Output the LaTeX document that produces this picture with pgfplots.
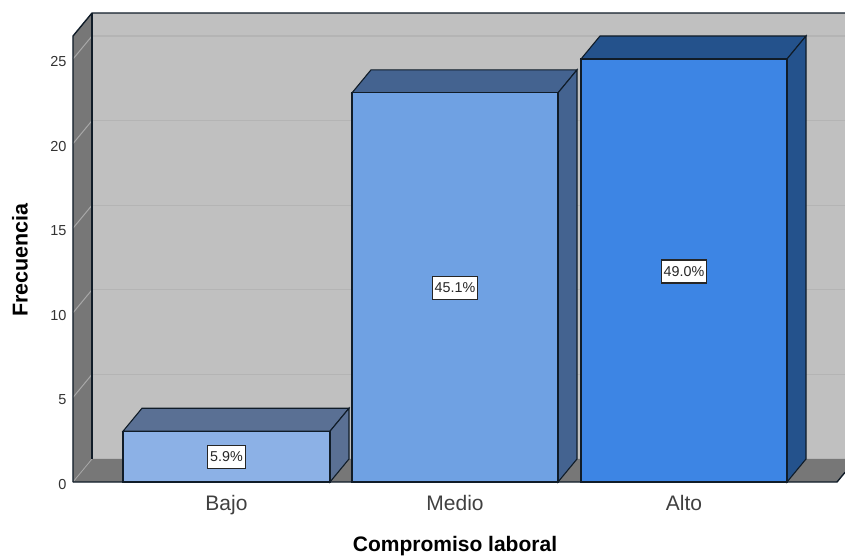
\documentclass[border=0pt]{standalone}
\usepackage{fontspec}
\setmainfont{Liberation Sans}
\usepackage{pgfplots}
\pgfplotsset{compat=1.18}
\definecolor{wall}{HTML}{C0C0C0}
\definecolor{wallgrid}{HTML}{B4B4B4}
\definecolor{side}{HTML}{777777}
\definecolor{sidegrid}{HTML}{A8A8A8}
\definecolor{edge}{HTML}{101C28}
\definecolor{bajoF}{HTML}{8CB1E6}
\definecolor{bajoT}{HTML}{5A7094}
\definecolor{medioF}{HTML}{6FA1E3}
\definecolor{medioT}{HTML}{446390}
\definecolor{altoF}{HTML}{3D85E4}
\definecolor{altoT}{HTML}{24528C}
\begin{document}
\begin{tikzpicture}
\path[use as bounding box] (-73pt,-73pt) rectangle (772pt,482pt);
\begin{axis}[
  at={(0pt,0pt)}, anchor=origin,
  scale only axis, width=772pt, height=469pt,
  xmin=73, xmax=845, ymin=0, ymax=27.72,
  clip=false,
  axis line style={draw=none},
  major tick length=0pt,
  xtick={226.5,455,684},
  xticklabels={Bajo,Medio,Alto},
  ytick={0,5,10,15,20,25},
  x tick label style={font=\fontsize{21}{24}\selectfont, text=black!75, yshift=-10pt},
  y tick label style={font=\fontsize{14.5}{17}\selectfont, text=black!80, xshift=-3pt, yshift=-2.5pt},
  /pgf/number format/assume math mode=true,
  xlabel={\textbf{Compromiso laboral}},
  ylabel={\textbf{Frecuencia}},
  xlabel style={font=\fontsize{21}{24}\selectfont, at={(axis cs:455,0)}, anchor=center, yshift=-64pt},
  ylabel style={font=\fontsize{21.5}{24}\selectfont, at={(axis cs:73,13.12)}, anchor=center, rotate=0, yshift=53pt},
]
% back wall
\addplot[fill=wall,draw=none] coordinates {(92,1.36)(845,1.36)(845,27.72)(92,27.72)} -- cycle;
% grid on back wall
\addplot[wallgrid,line width=1.3pt] coordinates {(92,6.36)(845,6.36)};
\addplot[wallgrid,line width=1.3pt] coordinates {(92,11.36)(845,11.36)};
\addplot[wallgrid,line width=1.3pt] coordinates {(92,16.36)(845,16.36)};
\addplot[wallgrid,line width=1.3pt] coordinates {(92,21.36)(845,21.36)};
\addplot[wallgrid,line width=1.3pt] coordinates {(92,26.36)(845,26.36)};
% left wall
\addplot[fill=side,draw=none] coordinates {(73,0)(92,1.36)(92,27.72)(73,26.36)} -- cycle;
\addplot[sidegrid,line width=1pt] coordinates {(73,5)(92,6.36)};
\addplot[sidegrid,line width=1pt] coordinates {(73,10)(92,11.36)};
\addplot[sidegrid,line width=1pt] coordinates {(73,15)(92,16.36)};
\addplot[sidegrid,line width=1pt] coordinates {(73,20)(92,21.36)};
\addplot[sidegrid,line width=1pt] coordinates {(73,25)(92,26.36)};
% floor
\addplot[fill=side,draw=none] coordinates {(73,0)(837,0)(845,0.57)(845,1.36)(92,1.36)} -- cycle;
\addplot[sidegrid,line width=0.8pt] coordinates {(73,0)(92,1.36)};
% frame lines
\addplot[edge,line width=1.4pt] coordinates {(73,0)(73,26.36)(92,27.72)(845,27.72)};
\addplot[edge,line width=1.2pt] coordinates {(92,27.72)(92,1.36)};
\addplot[edge,line width=1.4pt] coordinates {(73,0)(837,0)(845,0.57)};
% Bajo
\addplot[fill=bajoT,draw=edge,line width=1.1pt] coordinates {(123,3)(142,4.36)(349,4.36)(330,3)} -- cycle;
\addplot[fill=bajoT,draw=edge,line width=1.1pt] coordinates {(330,0)(349,1.36)(349,4.36)(330,3)} -- cycle;
\addplot[ybar,bar width=207pt,bar shift=0pt,fill=bajoF,draw=edge,line width=1.1pt] coordinates {(226.5,3)};
% Medio
\addplot[fill=medioT,draw=edge,line width=1.1pt] coordinates {(352,23)(371,24.36)(577,24.36)(558,23)} -- cycle;
\addplot[fill=medioT,draw=edge,line width=1.1pt] coordinates {(558,0)(577,1.36)(577,24.36)(558,23)} -- cycle;
\addplot[ybar,bar width=206pt,bar shift=0pt,fill=medioF,draw=edge,line width=1.1pt] coordinates {(455,23)};
% Alto
\addplot[fill=altoT,draw=edge,line width=1.1pt] coordinates {(581,25)(600,26.36)(806,26.36)(787,25)} -- cycle;
\addplot[fill=altoT,draw=edge,line width=1.1pt] coordinates {(787,0)(806,1.36)(806,26.36)(787,25)} -- cycle;
\addplot[ybar,bar width=206pt,bar shift=0pt,fill=altoF,draw=edge,line width=1.1pt] coordinates {(684,25)};
% value labels
\addplot[only marks,mark=none,draw=none,point meta=explicit,
  nodes near coords={\pgfmathprintnumber[fixed,fixed zerofill,precision=1,assume math mode=true]{\pgfplotspointmeta}\%},
  nodes near coords style={anchor=center,draw=black!85,fill=white,line width=1.2pt,
    font=\fontsize{14.3}{16}\selectfont,inner xsep=2.5pt,inner ysep=0pt,minimum height=23pt,text=black!85}]
  coordinates {(226.5,1.5)[5.9] (455,11.47)[45.1] (684,12.44)[49.0]};
\end{axis}
\end{tikzpicture}
\end{document}
